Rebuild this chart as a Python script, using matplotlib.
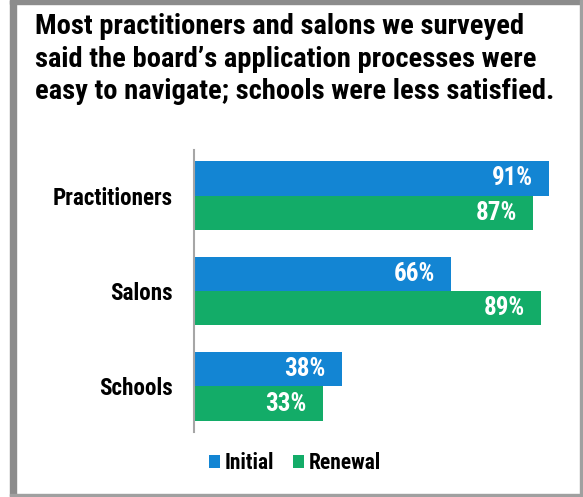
import matplotlib
matplotlib.use("Agg")
import matplotlib.pyplot as plt
from matplotlib.patches import Rectangle
import numpy as np

plt.rcParams['font.family'] = ['Roboto Condensed', 'Liberation Sans', 'DejaVu Sans']
plt.rcParams['font.weight'] = 'bold'

categories = ['Practitioners', 'Salons', 'Schools']
initial = [91, 66, 38]
renewal = [87, 89, 33]
series_names = ['Initial', 'Renewal']
title = ("Most practitioners and salons we surveyed\n"
         "said the board\u2019s application processes were\n"
         "easy to navigate; schools were less satisfied.")

blue = '#1385d3'
green = '#13ac68'

W, H = 583, 497
fig = plt.figure(figsize=(W / 100, H / 100), dpi=100)

# gray frame around the chart
frame = '#8c8c8c'
fig.patches.append(Rectangle((10 / W, 0), 6 / W, 1, transform=fig.transFigure,
                             color=frame, zorder=0))
fig.patches.append(Rectangle((10 / W, 1 - 4 / H), 1 - 10 / W, 4 / H, transform=fig.transFigure,
                             color=frame, zorder=0))
fig.patches.append(Rectangle((580 / W, 0), 2 / W, 1, transform=fig.transFigure,
                             color='#a0a0a0', zorder=0))
fig.patches.append(Rectangle((10 / W, 1 - 496 / H), 1 - 10 / W, 2 / H, transform=fig.transFigure,
                             color='#a0a0a0', zorder=0))

fig.text(35 / W, 1 - 13 / H, title, ha='left', va='top', fontsize=20.5,
         fontweight='bold', linespacing=1.27, color='black')

ax = fig.add_axes([194 / W, 1 - 432 / H, 381 / W, 282 / H])
y = np.arange(len(categories))
h = 0.362
b1 = ax.barh(y - h / 2, initial, height=h, color=blue, label=series_names[0])
b2 = ax.barh(y + h / 2, renewal, height=h, color=green, label=series_names[1])

for bars, vals in ((b1, initial), (b2, renewal)):
    for bar, v in zip(bars, vals):
        ax.text(v - 4.2, bar.get_y() + bar.get_height() / 2, f'{v}%',
                ha='right', va='center', color='white', fontsize=18, fontweight='bold')

ax.set_xlim(0, 381 / 3.9)
ax.set_ylim(2.48, -0.48)
ax.set_yticks(y)
ax.set_yticklabels(categories, fontsize=16.7, fontweight='bold')
ax.tick_params(axis='y', length=0, pad=15.5)
ax.set_xticks([])
for s in ['top', 'right', 'bottom']:
    ax.spines[s].set_visible(False)
ax.spines['left'].set_color('#a6a6a6')
ax.spines['left'].set_linewidth(1.5)

fig.legend(handles=[b1, b2], labels=series_names, loc='center',
           bbox_to_anchor=(295 / W, 1 - 463 / H), ncol=2, frameon=False,
           prop={'size': 15.5, 'weight': 'bold'}, handlelength=0.51, handleheight=0.51,
           handletextpad=0.25, columnspacing=0.84)

fig.savefig('out.png', dpi=100)
